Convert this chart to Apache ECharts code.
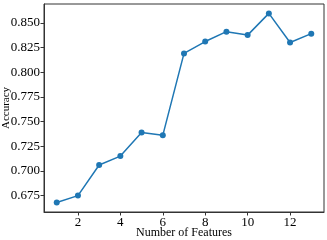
<!DOCTYPE html>
<html><head><meta charset="utf-8">
<script src="https://cdn.jsdelivr.net/npm/echarts@6/dist/echarts.min.js"></script>
<style>html,body{margin:0;padding:0;background:#fff}#c{width:327px;height:240px}</style>
</head><body><div id="c"></div>
<script>
const features = [1,2,3,4,5,6,7,8,9,10,11,12,13];
const accuracy = [0.668,0.675,0.706,0.715,0.739,0.736,0.819,0.831,0.841,0.8375,0.8595,0.830,0.839];
const xTicks = [2,4,6,8,10,12];
const yTicks = [0.675,0.700,0.725,0.750,0.775,0.800,0.825,0.850];
const font = 'Liberation Serif';
const chart = echarts.init(document.getElementById('c'), null, {renderer:'canvas'});
chart.setOption({
  animation:false,
  textStyle:{fontFamily:font},
  grid:{left:44,top:4,width:280,height:208,show:true,borderColor:'#333',borderWidth:1,
    containLabel:false,outerBoundsMode:'none'},
  xAxis:{type:'value',min:0.4,max:13.6,
    name:'Number of Features',nameLocation:'middle',nameGap:15,nameMoveOverlap:false,
    nameTextStyle:{fontFamily:font,fontSize:12,color:'#000',verticalAlign:'top'},
    axisLine:{show:true,onZero:false,lineStyle:{color:'#333'}},
    axisTick:{show:true,length:3.5,inside:false,customValues:xTicks,lineStyle:{color:'#333'}},
    axisLabel:{customValues:xTicks,fontFamily:font,fontSize:13,color:'#000',margin:4},
    splitLine:{show:false}},
  yAxis:{type:'value',min:0.6584,max:0.869,
    name:'Accuracy',nameLocation:'middle',nameGap:32,nameMoveOverlap:false,
    nameTextStyle:{fontFamily:font,fontSize:11,color:'#000'},
    axisLine:{show:true,onZero:false,lineStyle:{color:'#333'}},
    axisTick:{show:true,length:3.5,customValues:yTicks,lineStyle:{color:'#333'}},
    axisLabel:{customValues:yTicks,fontFamily:font,fontSize:13,color:'#000',margin:4,
      formatter:v=>v.toFixed(3)},
    splitLine:{show:false}},
  series:[{type:'line',data:features.map((f,i)=>[f,accuracy[i]]),
    symbol:'circle',symbolSize:6,
    lineStyle:{color:'#1f77b4',width:1.5},
    itemStyle:{color:'#1f77b4'}}]
});
</script></body></html>
